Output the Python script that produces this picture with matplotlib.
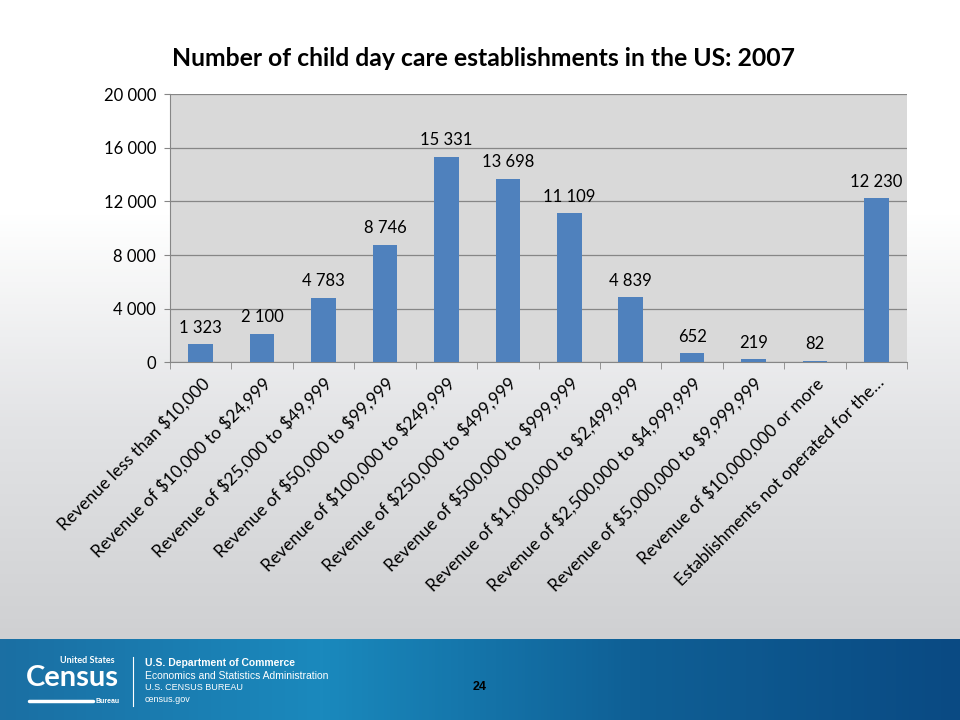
import numpy as np
import matplotlib.pyplot as plt
from matplotlib.colors import LinearSegmentedColormap

plt.rcParams['font.family'] = ['Lato', 'DejaVu Sans']

categories = [
    'Revenue less than $10,000',
    'Revenue of $10,000 to $24,999',
    'Revenue of $25,000 to $49,999',
    'Revenue of $50,000 to $99,999',
    'Revenue of $100,000 to $249,999',
    'Revenue of $250,000 to $499,999',
    'Revenue of $500,000 to $999,999',
    'Revenue of $1,000,000 to $2,499,999',
    'Revenue of $2,500,000 to $4,999,999',
    'Revenue of $5,000,000 to $9,999,999',
    'Revenue of $10,000,000 or more',
    'Establishments not operated for the…',
]
establishments = [1323, 2100, 4783, 8746, 15331, 13698, 11109, 4839, 652, 219, 82, 12230]
y_ticks = [0, 4000, 8000, 12000, 16000, 20000]


def spaced(v):
    return f'{v:,}'.replace(',', ' ')


fig = plt.figure(figsize=(9.6, 7.2), dpi=100)

# slide background: light gradient plus blue footer band
bg = fig.add_axes([0, 0, 1, 1])
bg.set_xlim(0, 1)
bg.set_ylim(0, 1)
bg.axis('off')
grad = np.linspace(0, 1, 200).reshape(-1, 1)
bg.imshow(grad, extent=[0, 1, 0.11, 1], aspect='auto',
          cmap=LinearSegmentedColormap.from_list('g', ['#cfd0d2', '#e2e3e5', '#ffffff', '#ffffff']),
          origin='lower', zorder=0)
foot = np.linspace(0, 1, 300).reshape(1, -1)
bg.imshow(foot, extent=[0, 1, 0, 0.112], aspect='auto',
          cmap=LinearSegmentedColormap.from_list('b', ['#1b6fa3', '#1a89bd', '#0f5f95', '#0a4a83']),
          zorder=1)

# footer logo and text
bg.text(0.027, 0.058, 'Census', color='white', fontsize=21, fontweight='bold',
        va='center', zorder=2)
bg.text(0.062, 0.083, 'United States', color='white', fontsize=6.5, fontweight='bold',
        va='center', zorder=2)
bg.plot([0.030, 0.097], [0.026, 0.026], color='white', lw=2.5,
        solid_capstyle='round', zorder=2)
bg.text(0.099, 0.026, 'Bureau', color='white', fontsize=5, fontweight='bold',
        ha='left', va='center', family='Liberation Sans', zorder=2)
bg.plot([0.139, 0.139], [0.020, 0.087], color='white', lw=0.8, zorder=2)
bg.text(0.151, 0.075, 'U.S. Department of Commerce', color='white', fontsize=7.5,
        fontweight='bold', family='Liberation Sans', zorder=2)
bg.text(0.151, 0.057, 'Economics and Statistics Administration', color='white',
        fontsize=7.5, family='Liberation Sans', zorder=2)
bg.text(0.151, 0.041, 'U.S. CENSUS BUREAU', color='white', fontsize=6.5,
        family='Liberation Sans', zorder=2)
bg.text(0.151, 0.025, 'census.gov', color='white', fontsize=6.5,
        family='Liberation Sans', zorder=2)
bg.text(0.5, 0.046, '24', color='black', fontsize=9, fontweight='bold',
        family='Liberation Sans', ha='center', va='center', zorder=2)

ax = fig.add_axes([0.177, 0.497, 0.768, 0.372])
x = np.arange(len(categories))
ax.set_facecolor('#d9d9d9')
ax.bar(x, establishments, width=0.4, color='#4f81bd', zorder=3)
for xi, v in zip(x, establishments):
    ax.text(xi, v + 650, spaced(v), ha='center', va='bottom', fontsize=12, color='#000000')

ax.set_xlim(-0.5, len(categories) - 0.5)
ax.set_ylim(0, 20000)
ax.set_yticks(y_ticks)
ax.set_yticklabels([spaced(t) for t in y_ticks], fontsize=12)
ax.yaxis.grid(True, color='#868686', lw=0.9, zorder=1)
ax.set_axisbelow(True)
ax.tick_params(axis='y', length=4, color='#868686', pad=6)

ax.set_xticks(x)
ax.set_xticklabels([c.replace('$', r'\$') for c in categories], rotation=45,
                   ha='right', rotation_mode='anchor', fontsize=12.5)
ax.tick_params(axis='x', length=0, pad=9)
ax.set_xticks(np.arange(-0.5, len(categories)), minor=True)
ax.tick_params(axis='x', which='minor', length=5, color='#868686')

for s in ['top', 'right']:
    ax.spines[s].set_visible(False)
ax.spines['left'].set_color('#868686')
ax.spines['bottom'].set_color('#868686')

fig.text(0.504, 0.919, 'Number of child day care establishments in the US: 2007',
         ha='center', va='center', fontsize=17.8, fontweight='bold')

fig.savefig('out.png', dpi=100)
